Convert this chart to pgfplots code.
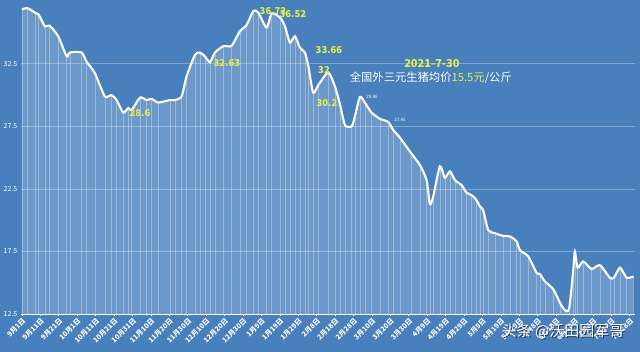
\documentclass[border=0pt]{standalone}
\usepackage{pgfplots}
\usepackage{pgfplotstable}
\pgfplotsset{compat=1.18}
\usepackage{fontspec}
\setmainfont{Noto Sans CJK SC}
\definecolor{bg}{RGB}{72,127,189}
\definecolor{ylw}{RGB}{224,238,74}

\pgfplotstableread{
d v
0 36.85
3 36.95
7 36.6
9 36.45
12.5 35.5
15 35.55
19.7 34.7
24.3 33.1
26 33.4
32.4 33.4
35 32.7
39.6 31.75
45 29.9
48.7 30.0
51.4 29.6
55 28.6
57.7 28.96
59.6 28.8
64.1 29.8
67.7 29.6
70.4 29.7
74 29.4
80.3 29.6
83.1 29.6
86.7 29.9
89.4 31.5
93.9 33.2
96.6 33.4
99.3 33.1
102.1 32.63
104.8 33.4
109.3 33.9
113.8 33.94
118.3 35.1
122 35.6
125.6 36.72
128.3 36.6
132.8 35.4
135.6 36.52
140.1 36.2
142.8 35.5
145.5 34.2
148.2 34.7
150.9 33.8
153.6 33.4
155.4 32.4
158.1 30.2
160.9 30.8
166.3 31.8
169.9 30.7
172.6 29.3
175.4 27.6
179 27.5
180.8 28.3
183.5 29.86
186.2 29.4
189.8 28.6
194.4 28.1
198.9 27.85
201.6 27.2
205.2 26.6
211.6 25.3
216.1 24.4
219.7 23.2
221.5 21.3
223.3 21.9
226.9 24.3
229.6 23.4
232.4 23.9
235.1 23.2
238.7 22.8
241.4 22.2
244.1 22.0
246.8 21.6
248.6 21.1
250.4 20.8
253.2 19.2
256.8 18.96
261.3 18.74
264.9 18.7
268.6 18.3
270.4 17.6
274.9 17.1
279.4 15.8
281.2 15.7
283.9 15.1
288.4 14.5
292.1 13.4
294.8 12.8
297.1 12.95
299.3 16.0
300.2 17.5
301.7 16.2
304.7 16.7
309.3 16.1
313.8 16.4
319.2 15.4
321.4 15.4
324.7 16.2
328.3 15.4
332 15.5
}\pricedata

\begin{document}
\begin{tikzpicture}[x=1pt,y=1pt]
\fill[bg] (0,0) rectangle (640,352);
\begin{axis}[
  at={(21pt,38pt)}, anchor=south west,
  scale only axis, width=614.3pt, height=314pt,
  xmin=-0.5, xmax=333, ymin=12.5, ymax=37.6,
  axis x line*=bottom, axis y line*=left,
  x axis line style={white, line width=0.8pt, -},
  y axis line style={draw=none},
  clip mode=individual,
  xtick={0,10,...,330},
  xticklabels={9月1日,9月11日,9月21日,10月1日,10月11日,10月21日,10月31日,11月10日,11月20日,11月30日,12月10日,12月20日,12月30日,1月9日,1月19日,1月29日,2月8日,2月18日,2月28日,3月10日,3月20日,3月30日,4月9日,4月19日,4月29日,5月9日,5月19日,5月29日,6月8日,6月18日,6月28日,7月8日,7月18日,7月28日},
  ytick={12.5,17.5,22.5,27.5,32.5},
  /pgf/number format/fixed,
  /pgf/number format/fixed zerofill,
  /pgf/number format/precision=1,
  /pgf/number format/assume math mode=true,
  ymajorgrids,
  grid style={white, opacity=0.3, line width=0.7pt},
  tick align=outside,
  xtick style={white, line width=0.6pt},
  major tick length=2pt,
  ytick style={draw=none},
  x tick label style={white, rotate=45, anchor=north east, inner sep=0.8pt, font=\bfseries\fontsize{7}{7.5}\selectfont},
  y tick label style={white, font=\fontsize{7}{8}\selectfont, inner sep=1.5pt},
]
\addplot[draw=none, fill=white, fill opacity=0.2, smooth, tension=0.4] table {\pricedata} \closedcycle;
\addplot[ycomb, white, opacity=0.3, line width=0.5pt] table {\pricedata};
\addplot[white, line width=2.1pt, smooth, tension=0.4] table {\pricedata};

\begin{scope}[every node/.style={ylw, font=\bfseries\fontsize{9.5}{10}\selectfont, inner sep=0.5pt}]
\node at (axis cs:64.1,28.58) {28.6};
\node at (axis cs:136.3,36.74) {36.72};
\node at (axis cs:147.1,36.5) {36.52};
\node at (axis cs:111.3,32.58) {32.63};
\node at (axis cs:166.7,33.62) {33.66};
\node at (axis cs:164,32.02) {32};
\node at (axis cs:165.6,29.38) {30.2};
\end{scope}
\node[white, font=\fontsize{4.5}{5}\selectfont] at (axis cs:190,29.86) {29.86};
\node[white, font=\fontsize{4.5}{5}\selectfont] at (axis cs:205.2,28.02) {27.85};
\node[ylw, font=\bfseries\fontsize{11}{12}\selectfont] at (axis cs:222.6,32.5) {2021-7-30};
\node[white, font=\fontsize{11.3}{12}\selectfont] at (axis cs:222,31.38) {全国外三元生猪均价\textcolor{ylw}{15.5元}/公斤};
\end{axis}
\node[black, opacity=0.6, font=\fontsize{15}{16}\selectfont] at (564.2,19.8) {头条 @沃田园军哥};
\node[white, font=\fontsize{15}{16}\selectfont] at (563,21) {头条 @沃田园军哥};
\pgfresetboundingbox
\path[use as bounding box] (0,0) rectangle (640,352);
\end{tikzpicture}
\end{document}
